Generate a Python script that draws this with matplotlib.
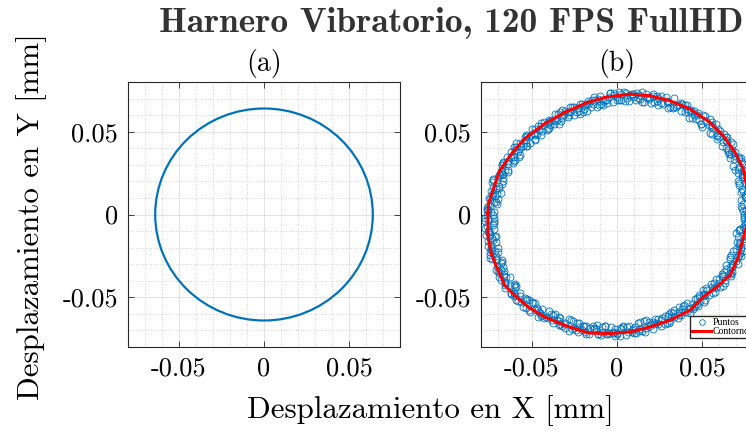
import numpy as np
import matplotlib
matplotlib.use("Agg")
import matplotlib.pyplot as plt
from matplotlib.patches import Circle
from matplotlib.ticker import MultipleLocator

plt.rcParams["font.family"] = "serif"
plt.rcParams["font.serif"] = ["cmr10"]
plt.rcParams["mathtext.fontset"] = "cm"
plt.rcParams["axes.unicode_minus"] = False

# (a) trayectoria ideal: circulo de radio fijo [mm]
radio_a = 0.064

# (b) puntos medidos: angulo [grados] y radio [um] de cada vuelta
ang_v1 = [0, 3, 7, 9, 12, 16, 18, 21, 25, 27, 30, 34, 36, 39, 43, 45, 48, 52, 54, 57,
          61, 63, 66, 70, 72, 75, 79, 81, 84, 88, 90, 93, 97, 99, 102, 106, 108, 111, 115, 117,
          120, 124, 126, 129, 133, 135, 138, 142, 144, 147, 151, 153, 156, 160, 162, 165, 169, 171, 174, 178,
          180, 183, 187, 189, 192, 196, 198, 201, 205, 207, 210, 214, 216, 219, 223, 225, 228, 232, 234, 237,
          241, 243, 246, 250, 252, 255, 259, 261, 264, 268, 270, 273, 277, 279, 282, 286, 288, 291, 295, 297,
          300, 304, 306, 309, 313, 315, 318, 322, 324, 327, 331, 333, 336, 340, 342, 345, 349, 351, 354, 358]
rad_v1 = [76.7, 73.7, 79.2, 76.0, 78.9, 73.8, 78.2, 76.3, 80.3, 74.9,
          78.0, 74.3, 79.6, 76.0, 80.0, 76.3, 73.7, 77.5, 72.0, 75.9,
          77.3, 73.0, 74.1, 70.3, 75.2, 72.0, 75.6, 69.8, 72.7, 69.4,
          71.1, 73.2, 66.9, 70.8, 68.4, 65.0, 70.4, 66.3, 68.4, 70.7,
          65.5, 68.7, 67.0, 70.8, 65.4, 69.2, 71.0, 67.3, 73.4, 69.2,
          71.5, 68.5, 73.9, 72.2, 70.7, 76.0, 69.6, 74.6, 73.0, 76.6,
          73.1, 77.8, 72.9, 75.7, 77.6, 72.9, 78.6, 75.6, 74.3, 77.9,
          78.7, 75.9, 73.5, 78.1, 74.3, 78.6, 72.3, 74.8, 75.9, 71.7,
          72.7, 75.2, 69.3, 73.2, 74.8, 69.8, 70.5, 73.0, 67.8, 71.5,
          72.2, 67.9, 70.2, 72.6, 66.2, 70.1, 68.3, 72.4, 67.3, 69.5,
          66.9, 71.2, 73.2, 69.8, 68.9, 72.8, 67.7, 72.2, 74.7, 71.7,
          76.6, 72.1, 74.5, 71.6, 76.1, 74.4, 77.2, 71.1, 75.9, 74.5]
rad_v4 = [74.7, 77.9, 73.6, 77.3, 75.0, 79.6, 77.1, 74.6, 78.9, 77.9,
          75.3, 78.3, 80.0, 75.7, 76.3, 78.8, 73.5, 76.4, 77.5, 73.7,
          75.8, 72.0, 74.2, 76.0, 71.3, 73.6, 71.3, 74.2, 68.8, 72.7,
          69.2, 73.2, 69.1, 67.1, 70.5, 68.7, 65.2, 69.8, 66.5, 68.3,
          69.9, 65.9, 68.8, 65.6, 70.4, 68.1, 71.9, 67.6, 69.6, 71.5,
          68.3, 71.7, 74.0, 71.1, 73.6, 70.0, 75.7, 72.8, 71.8, 76.0,
          76.3, 72.5, 75.9, 78.3, 74.5, 77.4, 73.5, 76.2, 78.7, 74.7,
          75.6, 79.2, 74.4, 76.9, 77.4, 73.4, 77.8, 72.1, 74.7, 74.8,
          70.9, 73.9, 75.1, 69.5, 71.4, 73.3, 69.6, 73.2, 67.9, 71.2,
          71.4, 67.6, 71.5, 69.0, 72.1, 67.3, 69.6, 67.6, 72.2, 67.1,
          72.0, 68.9, 67.5, 72.1, 71.2, 68.6, 72.9, 70.9, 70.4, 75.5,
          72.1, 76.0, 73.8, 75.9, 71.8, 75.4, 72.7, 77.3, 74.3, 77.2]
ang_v2 = [1.5, 5, 8, 10.5, 14, 17, 19.5, 23, 26, 28.5, 32, 35, 37.5, 41, 44, 46.5, 50, 53, 55.5, 59,
          62, 64.5, 68, 71, 73.5, 77, 80, 82.5, 86, 89, 91.5, 95, 98, 100.5, 104, 107, 109.5, 113, 116, 118.5,
          122, 125, 127.5, 131, 134, 136.5, 140, 143, 145.5, 149, 152, 154.5, 158, 161, 163.5, 167, 170, 172.5, 176, 179,
          181.5, 185, 188, 190.5, 194, 197, 199.5, 203, 206, 208.5, 212, 215, 217.5, 221, 224, 226.5, 230, 233, 235.5, 239,
          242, 244.5, 248, 251, 253.5, 257, 260, 262.5, 266, 269, 271.5, 275, 278, 280.5, 284, 287, 289.5, 293, 296, 298.5,
          302, 305, 307.5, 311, 314, 316.5, 320, 323, 325.5, 329, 332, 334.5, 338, 341, 343.5, 347, 350, 352.5, 356, 359]
rad_v2 = [74.1, 78.4, 75.8, 79.8, 74.0, 77.9, 79.4, 74.2, 79.7, 76.6,
          80.3, 76.1, 74.5, 78.4, 76.8, 72.9, 78.6, 75.3, 76.5, 72.7,
          73.8, 77.6, 71.8, 74.2, 70.0, 74.6, 71.5, 73.6, 68.7, 74.0,
          72.0, 67.8, 72.2, 65.8, 69.1, 69.8, 66.6, 70.8, 65.6, 67.4,
          64.5, 68.7, 70.3, 66.8, 72.0, 66.6, 69.8, 68.9, 72.1, 67.2,
          73.5, 71.1, 69.2, 73.6, 76.2, 71.3, 73.8, 70.9, 75.9, 74.4,
          72.1, 76.7, 75.8, 72.5, 78.3, 75.1, 79.3, 74.3, 76.2, 78.8,
          77.4, 73.6, 78.3, 78.8, 74.2, 72.9, 75.2, 77.2, 70.9, 74.2,
          70.9, 73.1, 75.6, 69.5, 72.8, 70.6, 67.8, 73.2, 71.6, 68.9,
          73.5, 68.0, 69.7, 71.3, 66.1, 72.0, 69.6, 68.0, 71.5, 67.0,
          69.3, 72.2, 67.2, 71.4, 73.7, 69.4, 68.6, 73.2, 75.9, 72.4,
          75.5, 71.1, 75.2, 77.1, 72.7, 74.2, 77.5, 72.4, 75.7, 76.8]
rad_v5 = [77.7, 74.6, 76.9, 74.0, 78.2, 77.0, 75.2, 80.1, 76.5, 79.2,
          75.5, 78.0, 79.5, 74.1, 77.7, 79.1, 74.8, 73.1, 75.6, 77.1,
          74.9, 72.1, 76.2, 72.3, 74.6, 69.6, 73.0, 71.3, 73.7, 69.2,
          73.2, 69.1, 67.1, 70.4, 70.7, 66.5, 68.5, 65.1, 69.5, 70.3,
          67.0, 69.6, 65.8, 71.2, 67.4, 69.5, 66.8, 71.4, 69.7, 72.8,
          68.8, 74.1, 71.3, 72.7, 70.2, 74.9, 71.7, 75.9, 74.7, 72.3,
          77.5, 73.4, 76.6, 72.9, 76.2, 78.1, 75.4, 73.8, 78.2, 75.4,
          78.0, 74.2, 78.6, 75.3, 73.4, 77.9, 73.3, 74.8, 75.7, 70.3,
          73.0, 74.8, 69.4, 73.5, 70.5, 73.8, 70.5, 68.6, 72.4, 73.4,
          68.3, 71.0, 72.5, 66.9, 70.9, 69.1, 66.7, 71.6, 68.2, 70.6,
          71.4, 67.5, 71.0, 73.0, 69.1, 70.4, 73.8, 69.6, 72.9, 71.9,
          76.2, 73.5, 71.6, 75.6, 77.3, 72.6, 75.0, 72.3, 76.4, 74.6]
ang_v3 = [2, 4, 6, 11, 13, 15, 20, 22, 24, 29, 31, 33, 38, 40, 42, 47, 49, 51, 56, 58,
          60, 65, 67, 69, 74, 76, 78, 83, 85, 87, 92, 94, 96, 101, 103, 105, 110, 112, 114, 119,
          121, 123, 128, 130, 132, 137, 139, 141, 146, 148, 150, 155, 157, 159, 164, 166, 168, 173, 175, 177,
          182, 184, 186, 191, 193, 195, 200, 202, 204, 209, 211, 213, 218, 220, 222, 227, 229, 231, 236, 238,
          240, 245, 247, 249, 254, 256, 258, 263, 265, 267, 272, 274, 276, 281, 283, 285, 290, 292, 294, 299,
          301, 303, 308, 310, 312, 317, 319, 321, 326, 328, 330, 335, 337, 339, 344, 346, 348, 353, 355, 357]
rad_v3 = [76.1, 73.1, 78.6, 75.5, 80.2, 74.0, 78.8, 77.3, 79.7, 75.1,
          76.0, 80.3, 76.4, 78.9, 73.5, 76.9, 78.7, 73.9, 74.8, 78.2,
          76.8, 70.9, 74.6, 71.9, 75.8, 72.8, 69.7, 73.2, 70.6, 74.3,
          68.0, 71.4, 69.5, 72.4, 66.9, 69.2, 64.4, 70.1, 67.7, 66.3,
          70.8, 67.0, 65.8, 69.6, 68.8, 66.0, 71.5, 68.6, 72.9, 67.5,
          69.9, 73.9, 69.5, 72.8, 75.7, 71.5, 72.9, 75.4, 70.6, 76.7,
          76.1, 72.8, 78.3, 74.7, 73.1, 77.0, 78.5, 72.7, 77.0, 76.1,
          73.6, 78.6, 76.6, 74.2, 78.4, 72.7, 78.2, 73.9, 74.8, 71.2,
          75.5, 72.4, 69.3, 74.2, 70.1, 74.4, 68.9, 71.7, 72.3, 67.8,
          69.2, 73.0, 67.6, 70.3, 72.8, 66.1, 70.2, 68.4, 71.6, 67.9,
          70.7, 66.9, 72.4, 71.8, 68.6, 71.1, 69.9, 74.3, 70.1, 74.8,
          71.3, 74.8, 77.1, 71.3, 76.0, 73.9, 76.7, 72.8, 75.4, 78.3]

# contorno ajustado [mm]
cont_x = [-0.0759, -0.0755, -0.0730, -0.0690, -0.0620, -0.0543, -0.0425, -0.0308, -0.0190, -0.0072,
          0.0076, 0.0194, 0.0310, 0.0430, 0.0547, 0.0625, 0.0694, 0.0743, 0.0768, 0.0775,
          0.0768, 0.0743, 0.0714, 0.0665, 0.0586, 0.0508, 0.0430, 0.0310, 0.0194, 0.0076,
          -0.0040, -0.0170, -0.0308, -0.0425, -0.0524, -0.0602, -0.0660, -0.0700, -0.0739, -0.0759, -0.0759]
cont_y = [0.0006, 0.0070, 0.0145, 0.0265, 0.0367, 0.0458, 0.0548, 0.0616, 0.0670, 0.0707,
          0.0727, 0.0717, 0.0687, 0.0637, 0.0556, 0.0476, 0.0375, 0.0275, 0.0145, 0.0040,
          -0.0054, -0.0137, -0.0257, -0.0367, -0.0438, -0.0498, -0.0578, -0.0639, -0.0679, -0.0709,
          -0.0719, -0.0715, -0.0669, -0.0619, -0.0558, -0.0488, -0.0428, -0.0337, -0.0237, -0.0137, 0.0006]

ticks = [-0.05, 0, 0.05]
tick_labels = ["-0.05", "0", "0.05"]

azul = "#0072BD"
gris = "#262626"

fig = plt.figure(figsize=(7.46, 4.34), dpi=100)
ax_a = fig.add_axes([128 / 746, 87 / 434, 272 / 746, 265 / 434])
ax_b = fig.add_axes([481 / 746, 87 / 434, 272 / 746, 265 / 434])

for ax in (ax_a, ax_b):
    ax.set_xlim(-0.08, 0.08)
    ax.set_ylim(-0.08, 0.08)
    ax.set_xticks(ticks)
    ax.set_yticks(ticks)
    ax.set_xticklabels(tick_labels)
    ax.set_yticklabels(tick_labels)
    ax.xaxis.set_minor_locator(MultipleLocator(0.01))
    ax.yaxis.set_minor_locator(MultipleLocator(0.01))
    ax.grid(True, which="major", color=gris, alpha=0.15, lw=0.6)
    ax.grid(True, which="minor", color=gris, alpha=0.25, lw=0.6, ls=(0, (1, 2)))
    ax.tick_params(which="major", direction="in", top=True, right=True, length=4,
                   width=0.6, color=gris, labelsize=19, labelcolor="black", pad=7)
    ax.tick_params(which="minor", length=0)
    for s in ax.spines.values():
        s.set_color(gris)
        s.set_linewidth(0.8)
    ax.set_axisbelow(True)

# (a)
ax_a.add_patch(Circle((0, 0), radio_a, fill=False, ec=azul, lw=1.6))
ax_a.set_title("(a)", fontsize=20, pad=8)

# (b)
vueltas = [(ang_v1, rad_v1), (ang_v2, rad_v2), (ang_v3, rad_v3),
           (ang_v1, rad_v4), (ang_v2, rad_v5)]
px = []
py = []
for angs, rads in vueltas:
    t = np.deg2rad(angs)
    r = np.array(rads) / 1000
    px.extend(r * np.cos(t))
    py.extend(r * np.sin(t))
ax_b.plot(px, py, "o", mfc="none", mec=azul, ms=5, mew=0.6, label="Puntos")
ax_b.plot(cont_x, cont_y, "-", color="red", lw=2.2, label="Contorno")
ax_b.set_title("(b)", fontsize=20, pad=8)
ax_b.legend(loc="lower right", bbox_to_anchor=(0.993, 0.034), borderaxespad=0,
            prop={"family": "Liberation Serif", "size": 7}, frameon=True,
            fancybox=False, edgecolor=gris, framealpha=1, borderpad=0.2,
            handlelength=1.9, handletextpad=0.15, labelspacing=0.0, markerscale=0.8)

fig.text(451 / 746, 1 - 23 / 434, "Harnero Vibratorio, 120 FPS FullHD", ha="center",
         va="center", fontsize=25.5, family="cmb10", color="#333333")
fig.text(430 / 746, 1 - 411 / 434, "Desplazamiento en X [mm]", ha="center",
         va="center", fontsize=22.3)
fig.text(32 / 746, 0.5, "Desplazamiento en Y [mm]", ha="center", va="center",
         rotation=90, fontsize=22.3)

fig.savefig("out.png", dpi=100)
